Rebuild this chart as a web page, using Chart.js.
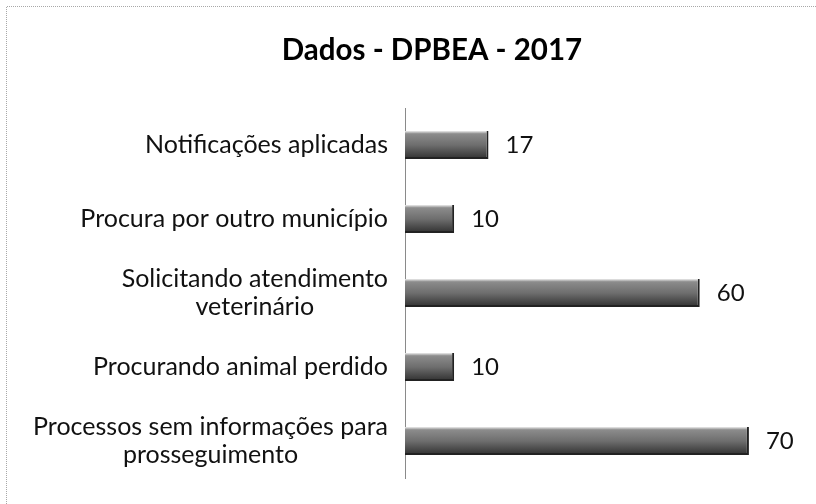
<!DOCTYPE html>
<html>
<head>
<meta charset="utf-8">
<script src="https://cdn.jsdelivr.net/npm/chart.js@4.4.1/dist/chart.umd.min.js"></script>
<style>
  html, body { margin: 0; padding: 0; background: #fff; }
  #wrap { width: 816px; height: 504px; }
</style>
</head>
<body>
<div id="wrap"><canvas id="dpbeaChart" width="816" height="504"></canvas></div>
<script>
const chartTitle = "Dados - DPBEA - 2017";
const categories = [
  ["Notificações aplicadas"],
  ["Procura por outro município"],
  ["Solicitando atendimento", "veterinário"],
  ["Procurando animal perdido"],
  ["Processos sem informações para", "prosseguimento"]
];
const values = [17, 10, 60, 10, 70];
const axisMax = 80;

const FONT = "Lato, 'Open Sans', sans-serif";

// grey bar with a darker bottom, like the 3D excel style
function barFill(context) {
  const chart = context.chart;
  if (!chart.chartArea || !chart.scales.y) return "#666";
  const y = chart.scales.y.getPixelForValue(context.dataIndex);
  const g = chart.ctx.createLinearGradient(0, y - 14, 0, y + 14);
  g.addColorStop(0, "#ececec");
  g.addColorStop(0.1, "#8c8c8c");
  g.addColorStop(0.5, "#6e6e6e");
  g.addColorStop(1, "#303030");
  return g;
}

const frame = {
  id: "frame",
  beforeDraw(chart) {
    const ctx = chart.ctx;
    ctx.save();
    ctx.strokeStyle = "#a8a8a8";
    ctx.lineWidth = 1;
    ctx.setLineDash([1, 1]);
    ctx.beginPath();
    ctx.moveTo(6.5, chart.height);
    ctx.lineTo(6.5, 6.5);
    ctx.lineTo(chart.width, 6.5);
    ctx.stroke();
    ctx.restore();
  },
  afterDraw(chart) {
    const ctx = chart.ctx;
    const yScale = chart.scales.y;
    ctx.save();
    // title
    ctx.fillStyle = "#000";
    ctx.font = "bold 29.5px " + FONT;
    ctx.textAlign = "center";
    ctx.textBaseline = "middle";
    ctx.fillText(chartTitle, 432, 50);

    // category labels, lines centred on each other, block right aligned
    ctx.font = "25px " + FONT;
    ctx.fillStyle = "#111";
    const lineH = 28;
    categories.forEach((lines, i) => {
      const cy = yScale.getPixelForValue(i);
      const w = Math.max(...lines.map(l => ctx.measureText(l).width));
      const cx = 388 - w / 2;
      lines.forEach((l, k) => {
        const ly = cy + (k - (lines.length - 1) / 2) * lineH;
        ctx.fillText(l, cx, ly);
      });
    });

    // value labels
    ctx.font = "24px " + FONT;
    ctx.textAlign = "left";
    chart.getDatasetMeta(0).data.forEach((bar, i) => {
      ctx.fillText(values[i], bar.x + 17, bar.y);
    });
    ctx.restore();
  }
};

new Chart(document.getElementById("dpbeaChart"), {
  type: "bar",
  data: {
    labels: categories,
    datasets: [{
      data: values,
      backgroundColor: barFill,
      borderColor: "#222",
      borderWidth: { top: 0, right: 2, bottom: 2, left: 0 },
      borderSkipped: false,
      categoryPercentage: 1,
      barPercentage: 0.38
    }]
  },
  options: {
    indexAxis: "y",
    responsive: false,
    animation: false,
    layout: { padding: { left: 405, right: 18, top: 108, bottom: 26 } },
    plugins: {
      legend: { display: false },
      title: { display: false },
      tooltip: { enabled: false }
    },
    scales: {
      x: {
        display: false,
        min: 0,
        max: axisMax
      },
      y: {
        grid: { display: false, drawTicks: false },
        border: { display: true, color: "#8a8a8a", width: 1, dash: [2, 1] },
        ticks: { display: false }
      }
    }
  },
  plugins: [frame]
});
</script>
</body>
</html>
